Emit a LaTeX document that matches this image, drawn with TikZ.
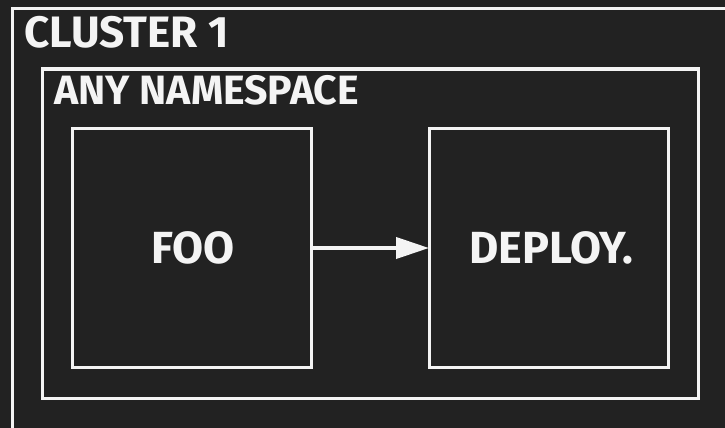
\documentclass[tikz,border=0pt]{standalone}
\usepackage{fontspec}
\setmainfont{Fira Sans}
\usetikzlibrary{arrows.meta}
\definecolor{bg}{HTML}{222222}
\definecolor{ink}{HTML}{F4F4F4}
\begin{document}
\begin{tikzpicture}[x=1pt,y=-1pt,
  frame/.style={draw=ink,line width=3pt},
  title/.style={text=ink,anchor=west,inner sep=0pt,font=\bfseries\fontsize{44}{46}\selectfont},
  boxlabel/.style={text=ink,inner sep=0pt,font=\bfseries\fontsize{45}{47}\selectfont},
  link/.style={draw=ink,line width=4pt,-{Triangle[length=33pt,width=21pt]},shorten >=-1pt}]
  % canvas
  \fill[bg] (0,0) rectangle (725,428);
  \useasboundingbox (0,0) rectangle (725,428);
  % cluster and namespace frames
  \draw[frame] (12,8.5) rectangle (760,460);
  \node[title] (cluster) at (24,32) {CLUSTER 1};
  \draw[frame] (42,69) rectangle (698,398);
  \node[title,font=\bfseries\fontsize{41}{43}\selectfont] (ns) at (54,90) {ANY NAMESPACE};
  % workloads
  \node[frame,minimum width=239pt,minimum height=239pt,inner sep=0pt] (foo) at (191.5,248) {};
  \node[frame,minimum width=239pt,minimum height=239pt,inner sep=0pt] (deploy) at (549,248) {};
  \node[boxlabel] (foolabel) at (193,248) {FOO};
  \node[boxlabel] (deploylabel) at (551,248) {DEPLOY.};
  \draw[link] (foo.east) -- (deploy.west);
\end{tikzpicture}
\end{document}
